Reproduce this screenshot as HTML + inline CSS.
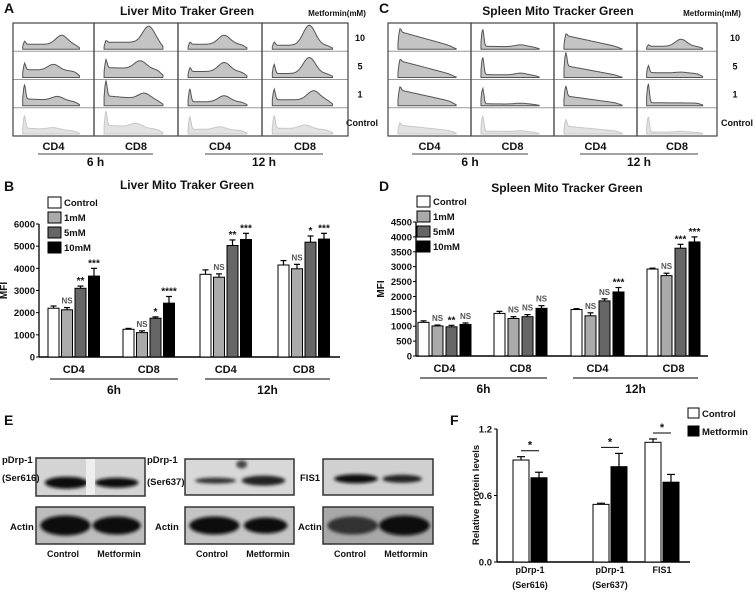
<!DOCTYPE html>
<html><head><meta charset="utf-8"><style>
body{margin:0;background:#fff}
svg{display:block;font-family:"Liberation Sans",Arial,sans-serif;font-weight:bold}
</style></head><body>
<svg id="fig" width="755" height="592" viewBox="0 0 755 592">
<defs><filter id="bl" x="-20%" y="-50%" width="140%" height="200%"><feGaussianBlur stdDeviation="1.6"/></filter></defs>
<g id="root"></g>
</svg>
<script>
// Panel B data
const groupsB=["CD4","CD8","CD4","CD8"];
const seriesNames=["Control","1mM","5mM","10mM"];
const valsB=[[2200,2130,3100,3650],[1250,1100,1750,2430],[3730,3600,5030,5300],[4150,3980,5180,5320]];
const errB=[[100,100,100,350],[40,80,60,300],[200,150,250,280],[200,200,280,260]];
const annB=[["","NS","**","***"],["","NS","*","****"],["","NS","**","***"],["","NS","*","***"]];
const ticksB=[0,1000,2000,3000,4000,5000,6000];
// Panel D data
const valsD=[[1130,1010,980,1060],[1430,1260,1320,1600],[1560,1350,1850,2150],[2920,2700,3620,3830]];
const errD=[[50,30,50,50],[70,60,70,90],[30,100,70,150],[30,80,130,170]];
const annD=[["","NS","**","NS"],["","NS","NS","NS"],["","NS","NS","***"],["","NS","***","***"]];
const ticksD=[0,500,1000,1500,2000,2500,3000,3500,4000,4500];
// Panel F data
const catsF=["pDrp-1|(Ser616)","pDrp-1|(Ser637)","FIS1"];
const ctrlF=[0.92,0.52,1.08];
const metF=[0.76,0.86,0.72];
const ctrlErrF=[0.03,0.01,0.03];
const metErrF=[0.05,0.12,0.07];
const ticksF=[0.0,0.6,1.2];

const NS="http://www.w3.org/2000/svg";
const root=document.getElementById('root');
function el(tag,attrs,parent,txt){const e=document.createElementNS(NS,tag);for(const k in attrs)e.setAttribute(k,attrs[k]);if(txt!==undefined)e.textContent=txt;(parent||root).appendChild(e);return e;}
function grp(name,parent){const g=el('g',{},parent);


return g;}
function txt(p,x,y,s,size,anchor,name,fill){const t=el('text',{x:x,y:y,'font-size':size,'text-anchor':anchor||'middle',fill:fill||'#111'},p,s);


return t;}
const fills=["#fff","#aaa","#666","#000"];

// panel letters
[["A",4,13],["C",379,13],["B",4,191],["D",379,191],["E",4,425],["F",450,425]].forEach(l=>txt(root,l[1],l[2],l[0],14,'start','panel-label-'+l[0].toLowerCase()));

// ---------- histograms ----------
// per column: rows 10,5,1,control : [spike, plateau, peakPos, peakH, decay]
const histA=[
 [[4,5,0.6,9,0],[8,8,0.5,6,0.2],[16,7,0.55,4,0.4],[14,6,0.5,2,0.5]],
 [[3,7,0.65,16,0],[10,10,0.55,8,0.2],[18,10,0.6,6,0.5],[16,9,0.5,4,0.5]],
 [[3,5,0.55,9,0],[5,6,0.55,9,0],[14,4,0.55,6,0],[14,5,0.5,3,0.3]],
 [[4,4,0.55,20,0],[10,4,0.55,16,0],[12,6,0.6,9,0],[14,6,0.5,4,0.3]]];
const histC=[
 [[6,18,0.4,0,0.9],[4,17,0.4,0,0.9],[6,16,0.4,0,0.8],[4,9,0.4,0,0.7]],
 [[18,3,0.6,2,0.3],[18,3,0.6,2,0.3],[16,2,0.6,1,0.3],[16,3,0.6,1,0.4]],
 [[4,14,0.4,0,0.9],[16,12,0.4,0,0.9],[12,10,0.4,0,0.8],[8,8,0.4,0,0.7]],
 [[2,3,0.55,7,0],[8,5,0.55,1,0.2],[20,3,0.55,0,0.1],[16,2,0.55,1,0.2]]];
function hist(p,cols,xs,top,rowH,title,titleX,labX,metX,groupLines){
 const g=grp(p);
 txt(g,titleX,15,title,12,'middle','histogram-title');
 txt(g,metX,16,"Metformin(mM)",8,'middle','metformin-label');
 ["10","5","1","Control"].forEach((s,i)=>txt(g,labX+(s==="Control"?2:0),top+rowH*i+rowH/2+4,s,9,'middle','row-label-'+s.toLowerCase()));
 for(let c=0;c<4;c++){
  const x0=xs[c],x1=xs[c+1],w=x1-x0;
  for(let r=0;r<4;r++){
   const [sp,pl,pp,ph,dc]=cols[c][r];const base=top+rowH*(r+1)-2;
   let d="M"+(x0+w*0.12)+","+base;
   for(let i=0;i<=60;i++){const t=0.12+i/60*0.7;
    let y=sp*Math.exp(-Math.pow((t-0.14)/0.02,2))+pl*(1-dc*Math.max(0,t-0.13)/0.7)*(1/(1+Math.exp(-(t-0.13)*120)))*(1/(1+Math.exp((t-0.8)*40)))+ph*Math.exp(-Math.pow((t-pp)/0.1,2));
    d+=" L"+(x0+w*t).toFixed(1)+","+(base-Math.min(y,rowH-3)).toFixed(1);}
   d+=" L"+(x0+w*0.82)+","+base+" Z";
   const ctl=r===3;
   const ph_=el('path',{d:d,fill:ctl?'#e2e2e2':'#c4c4c4',stroke:ctl?'#c8c8c8':'#555','stroke-width':1},g);
   
   
   if(r<3)el('line',{x1:x0,x2:x1,y1:top+rowH*(r+1),y2:top+rowH*(r+1),stroke:'#999','stroke-width':1},g);
  }
  el('rect',{x:x0,y:top,width:w,height:rowH*4,fill:'none',stroke:'#444','stroke-width':1.2},g);
  txt(g,(x0+x1)/2,150,c%2?"CD8":"CD4",11,'middle','cell-type-label');
 }
 groupLines.forEach(gl=>{el('line',{x1:gl[0],x2:gl[1],y1:154,y2:154,stroke:'#444','stroke-width':1},g);txt(g,(gl[0]+gl[1])/2,166,gl[2],12,'middle','time-label');});
}
hist('panel-a-histograms',histA,[13,94,178,262,348],23,28.25,"Liver Mito Traker Green",187,360,337,[[38,153,"6 h"],[205,323,"12 h"]]);
hist('panel-c-histograms',histC,[388,471,554,637,717],23,28.25,"Spleen Mito Tracker Green",558,735,712,[[412,528,"6 h"],[580,698,"12 h"]]);

// ---------- bar charts ----------
function barChart(name,vals,errs,anns,ticks,ax,y0,yTopPx,max,xEnd,starts,bw,step,title,titleX,titleY,legX,legY,lines){
 const g=grp(name);
 const ys=v=>y0-(v/max)*(y0-yTopPx);
 txt(g,titleX,titleY,title,12,'middle','chart-title');
 seriesNames.forEach((s,i)=>{const r=el('rect',{x:legX,y:legY+i*15-9,width:13,height:11,fill:fills[i],stroke:'#000','stroke-width':1},g);
  
  txt(g,legX+16,legY+i*15,s,9.5,'start','legend-entry');});
 el('line',{x1:ax,x2:ax,y1:yTopPx,y2:y0,stroke:'#000','stroke-width':1.3},g);
 el('line',{x1:ax,x2:xEnd,y1:y0,y2:y0,stroke:'#000','stroke-width':1.5},g);
 ticks.forEach(t=>{const y=ys(t);el('line',{x1:ax-3,x2:ax,y1:y,y2:y,stroke:'#000'},g);txt(g,ax-4,y+3.5,String(t),9.5,'end','y-tick-label');});
 txt(g,0,0,"MFI",10,'middle','y-axis-title').setAttribute('transform','translate('+(ax-32)+','+((y0+yTopPx)/2)+') rotate(-90)');
 vals.forEach((gv,gi)=>{
  gv.forEach((v,si)=>{const x=starts[gi]+si*step,yt=ys(v),ye=ys(v+errs[gi][si]);
   el('line',{x1:x+bw/2,x2:x+bw/2,y1:yt,y2:ye,stroke:'#000','stroke-width':1.2},g);
   el('line',{x1:x+bw/2-3,x2:x+bw/2+3,y1:ye,y2:ye,stroke:'#000','stroke-width':1.2},g);
   const b=el('rect',{x:x,y:yt,width:bw,height:y0-yt,fill:fills[si],stroke:'#000','stroke-width':1},g);
   
   
   const a=anns[gi][si];if(a){const isNS=a==="NS";txt(g,x+bw/2,ye-(isNS?4:2),a,isNS?8:10,'middle','significance',isNS?'#555':'#111');}
  });
  txt(g,starts[gi]+1.5*step+bw/2,y0+16,groupsB[gi],11,'middle','x-category-label');
 });
 lines.forEach(l=>{el('line',{x1:l[0],x2:l[1],y1:y0+22,y2:y0+22,stroke:'#333','stroke-width':1.3},g);txt(g,(l[0]+l[1])/2,y0+37,l[2],12,'middle','time-group-label');});
}
barChart('panel-b-chart',valsB,errB,annB,ticksB,39,357,224,6000,340,[48,123,200,278],11,13.5,"Liver Mito Traker Green",187,189,48,206,[[50,178,"6h"],[205,330,"12h"]]);
barChart('panel-d-chart',valsD,errD,annD,ticksD,416,356,222,4500,708,[418,494,571,647],11,14,"Spleen Mito Tracker Green",567,192,417,205,[[420,547,"6h"],[573,698,"12h"]]);

// ---------- western blots ----------
const gE=grp('panel-e-blots');
function blot(x,y,w,h,bg,bands,name){
 const g=grp(name,gE);
 el('rect',{x:x,y:y,width:w,height:h,fill:bg},g);
 bands.forEach(b=>el('ellipse',{cx:x+w*b[0],cy:y+h*b[1],rx:w*b[2],ry:b[3],fill:b[4]||'#111',filter:'url(#bl)'},g));
 el('rect',{x:x,y:y,width:w,height:h,fill:'none',stroke:'#333','stroke-width':1.5},g);
}
blot(36,458,109,38,'#d4d4d4',[[0.28,0.65,0.2,6],[0.74,0.65,0.2,5]],'blot-pdrp1-ser616');
el('rect',{x:86,y:459,width:9,height:36,fill:'#eee'},gE);
blot(185,459,109,36,'#d8d8d8',[[0.28,0.6,0.19,3,'#333'],[0.72,0.6,0.2,5,'#222'],[0.52,0.15,0.05,4,'#444']],'blot-pdrp1-ser637');
blot(323,459,110,36,'#d0d0d0',[[0.3,0.55,0.2,4.5],[0.72,0.55,0.18,4,'#222']],'blot-fis1');
blot(36,507,109,37,'#bcbcbc',[[0.27,0.5,0.23,10],[0.74,0.5,0.22,9]],'blot-actin-1');
blot(185,507,109,37,'#c4c4c4',[[0.27,0.5,0.23,9],[0.74,0.5,0.2,8]],'blot-actin-2');
blot(323,507,110,37,'#a8a8a8',[[0.27,0.5,0.23,9,'#333'],[0.74,0.5,0.23,10]],'blot-actin-3');
[[2,463,"pDrp-1"],[2,481,"(Ser616)"],[147,463,"pDrp-1"],[147,485,"(Ser637)"],[300,481,"FIS1"],[10,530,"Actin"],[155,530,"Actin"],[298,530,"Actin"]].forEach(l=>txt(gE,l[0],l[1],l[2],9.5,'start','blot-label'));
[[63,36],[212,185],[350,323]].forEach(p=>{txt(gE,p[0],557,"Control",9,'middle','lane-label');txt(gE,p[0]+56,557,"Metformin",9,'middle','lane-label');});

// ---------- panel F ----------
const gF=grp('panel-f-chart');
const fY0=562,fTop=429,fMax=1.2,fAx=497;
const fy=v=>fY0-(v/fMax)*(fY0-fTop);
const fStarts=[513,593,645];const fbw=16;
el('line',{x1:fAx,x2:fAx,y1:fTop,y2:fY0,stroke:'#000','stroke-width':1.3},gF);
el('line',{x1:fAx,x2:690,y1:fY0,y2:fY0,stroke:'#000','stroke-width':1.5},gF);
ticksF.forEach(t=>{const y=fy(t);el('line',{x1:fAx-3,x2:fAx,y1:y,y2:y,stroke:'#000'},gF);txt(gF,fAx-5,y+3.5,t.toFixed(1),9.5,'end','y-tick-label');});
txt(gF,0,0,"Relative protein levels",9.5,'middle','y-axis-title').setAttribute('transform','translate(479,495) rotate(-90)');
catsF.forEach((c,i)=>{
 [[ctrlF,ctrlErrF,'#fff',0],[metF,metErrF,'#000',fbw+2]].forEach(s=>{
  const x=fStarts[i]+s[3],yt=fy(s[0][i]),ye=fy(s[0][i]+s[1][i]);
  el('line',{x1:x+fbw/2,x2:x+fbw/2,y1:yt,y2:ye,stroke:'#000','stroke-width':1.2},gF);
  el('line',{x1:x+fbw/2-4,x2:x+fbw/2+4,y1:ye,y2:ye,stroke:'#000','stroke-width':1.2},gF);
  const b=el('rect',{x:x,y:yt,width:fbw,height:fY0-yt,fill:s[2],stroke:'#000','stroke-width':1},gF);
  
  
 });
 const top=Math.min(fy(ctrlF[i]+ctrlErrF[i]),fy(metF[i]+metErrF[i]))-6;
 el('line',{x1:fStarts[i]+8,x2:fStarts[i]+fbw+10,y1:top,y2:top,stroke:'#000'},gF);
 txt(gF,fStarts[i]+fbw+1,top-2,"*",11,'middle','significance');
 const parts=c.split('|');
 txt(gF,fStarts[i]+fbw+1,fY0+11,parts[0],9,'middle','x-category-label');
 if(parts[1])txt(gF,fStarts[i]+fbw+1,fY0+26,parts[1],9,'middle','x-category-label');
});
[["Control","#fff",417],["Metformin","#000",435]].forEach(l=>{el('rect',{x:688,y:l[2]-9,width:11,height:10,fill:l[1],stroke:'#000'},gF);txt(gF,702,l[2],l[0],9.5,'start','legend-entry');});
</script>
</body></html>
